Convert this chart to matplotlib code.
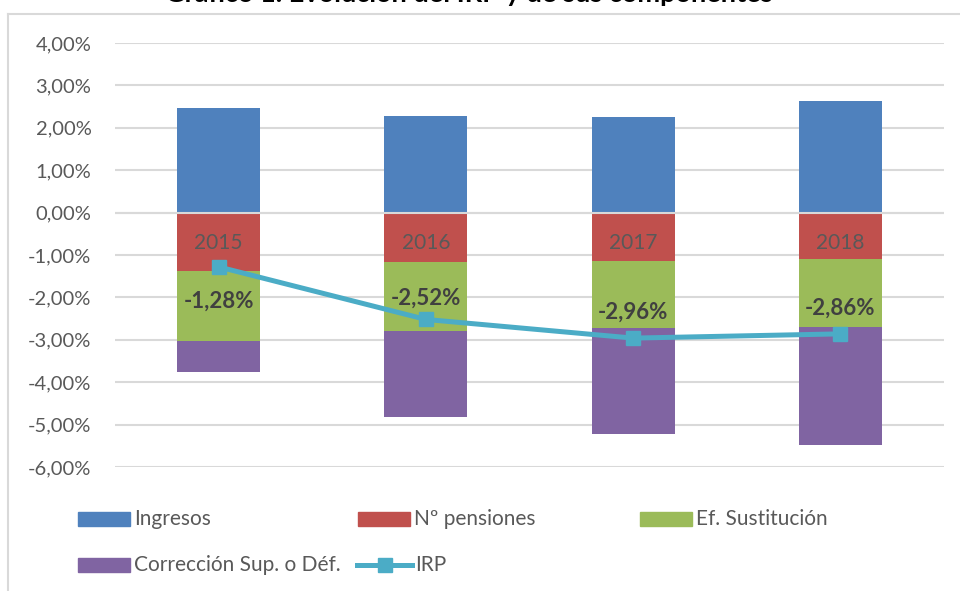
import matplotlib.pyplot as plt
from matplotlib.patches import Rectangle
from matplotlib.lines import Line2D
import numpy as np

years = ["2015", "2016", "2017", "2018"]
ingresos = [2.47, 2.29, 2.255, 2.625]
pensiones = [-1.38, -1.165, -1.15, -1.10]
sustitucion = [-1.64, -1.635, -1.58, -1.59]
correccion = [-0.73, -2.01, -2.49, -2.80]
irp = [-1.28, -2.52, -2.96, -2.86]
irp_label_y = [-2.08, -2.01, -2.34, -2.25]
year_label_y = -0.72

colores = ["#4f81bd", "#c0504d", "#9bbb59", "#8064a2"]
c_irp = "#4bacc6"
gris = "#595959"

plt.rcParams['font.family'] = ['Lato', 'DejaVu Sans']

W, H = 960, 591
fig = plt.figure(figsize=(W / 100, H / 100), dpi=100)

def px(x, y):
    # pixeles (desde arriba-izquierda) a fraccion de figura
    return x / W, 1 - y / H

ax = fig.add_axes([115 / W, (H - 467) / H, 829 / W, 424 / H])
x = np.arange(len(years))
bw = 0.4

ax.bar(x, ingresos, bw, color=colores[0], zorder=2)
ax.bar(x, pensiones, bw, color=colores[1], zorder=2)
base = np.array(pensiones)
ax.bar(x, sustitucion, bw, bottom=base, color=colores[2], zorder=2)
base = base + np.array(sustitucion)
ax.bar(x, correccion, bw, bottom=base, color=colores[3], zorder=2)
ax.axhline(0, color="#d9d9d9", lw=1.5, zorder=3)

ax.plot(x, irp, color=c_irp, lw=3.6, marker="s", markersize=10, zorder=4)

for i in range(len(years)):
    ax.text(x[i], year_label_y, years[i], ha="center", va="center",
            fontsize=15, color=gris, zorder=5)
    ax.text(x[i], irp_label_y[i], ("%.2f%%" % irp[i]).replace(".", ","),
            ha="center", va="center", fontsize=16, fontweight="bold",
            color="#404040", zorder=5)

ax.set_xlim(-0.5, 3.5)
ax.set_ylim(-6, 4)
ax.set_yticks(np.arange(-6, 5, 1))
ax.set_yticklabels([("%.2f%%" % v).replace(".", ",") for v in np.arange(-6, 5, 1)])
ax.tick_params(axis="y", length=0, pad=17, labelsize=14.5, labelcolor=gris)
ax.set_xticks([])
ax.grid(axis="y", color="#d9d9d9", lw=1.5, zorder=0)
ax.set_axisbelow(True)
for s in ax.spines.values():
    s.set_visible(False)

# borde del area del grafico
fig.add_artist(Line2D([px(8, 0)[0], px(8, 0)[0]], [px(0, 14)[1], 0], color="#d9d9d9", lw=1.5))
fig.add_artist(Line2D([px(8, 0)[0], 1], [px(0, 14)[1], px(0, 14)[1]], color="#d9d9d9", lw=1.5))

# titulo (cortado arriba, como en el original)
fig.text(0.488, 1 - 1.5 / H, "Gráfico 1. Evolución del IRP y de sus componentes",
         ha="center", va="baseline", fontsize=19.5, fontweight="bold", color="black")

# leyenda
ley = [("Ingresos", 78, 519, colores[0]),
       ("Nº pensiones", 358, 519, colores[1]),
       ("Ef. Sustitución", 640, 519, colores[2]),
       ("Corrección Sup. o Déf.", 78, 565, colores[3])]
for nombre, lx, ly, c in ley:
    x0, y0 = px(lx, ly + 7)
    fig.add_artist(Rectangle((x0, y0), 52 / W, 14 / H, color=c, transform=fig.transFigure))
    tx, ty = px(lx + 56, ly)
    fig.text(tx, ty, nombre, ha="left", va="center", fontsize=15, color=gris)

x0, y0 = px(357, 565)
x1, _ = px(412, 565)
fig.add_artist(Line2D([x0, x1], [y0, y0], color=c_irp, lw=3.6, transform=fig.transFigure))
xm, _ = px(385, 565)
fig.add_artist(Line2D([xm], [y0], color=c_irp, marker="s", markersize=10, transform=fig.transFigure))
tx, ty = px(415, 565)
fig.text(tx, ty, "IRP", ha="left", va="center", fontsize=15, color=gris)

fig.savefig("out.png", dpi=100)
